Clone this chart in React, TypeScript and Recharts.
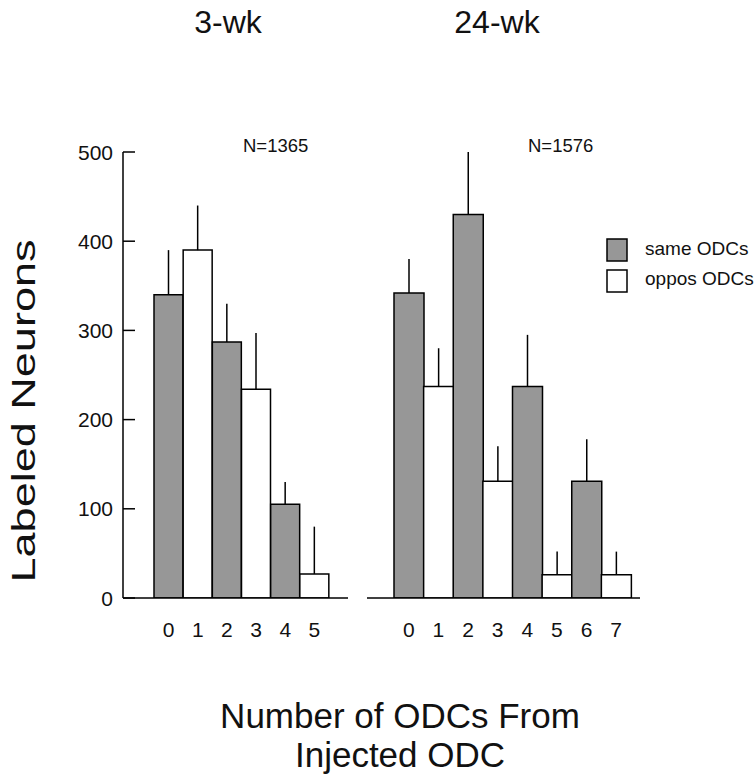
import { BarChart, Bar, XAxis, YAxis, Cell, ErrorBar } from 'recharts';

// distance (in ODCs) from the injected column
const weeks3Categories = ['0', '1', '2', '3', '4', '5'];
const weeks3Values = [340, 390, 287, 234, 105, 27];
const weeks3Errors = [50, 50, 43, 63, 25, 53];

const weeks24Categories = ['0', '1', '2', '3', '4', '5', '6', '7'];
const weeks24Values = [342, 237, 430, 131, 237, 26, 131, 26];
const weeks24Errors = [38, 43, 70, 39, 58, 26, 47, 26];

const yTicks = [0, 100, 200, 300, 400, 500];

const GRAY = '#979797';
const FONT = '"Liberation Sans", Arial, sans-serif';

const build = (cats: string[], vals: number[], errs: number[]) =>
  cats.map((c, i) => ({ dist: c, count: vals[i], err: [0, errs[i]] }));

const data3 = build(weeks3Categories, weeks3Values, weeks3Errors);
const data24 = build(weeks24Categories, weeks24Values, weeks24Errors);

// even distance = same eye ODC, odd = opposite eye
const fillFor = (i: number) => (i % 2 === 0 ? GRAY : '#ffffff');

const YTick = (props: any) => {
  const { x, y, payload } = props;
  return (
    <g>
      <line x1={x + 10} x2={x + 22} y1={y} y2={y} stroke="#000" strokeWidth={1.5} />
      <text x={x} y={y} dy="0.36em" textAnchor="end" fontSize={21} fill="#111" fontFamily={FONT}>
        {payload.value}
      </text>
    </g>
  );
};

function Panel({ data, width, margin, padding, showY }: any) {
  return (
    <BarChart
      width={width}
      height={700}
      data={data}
      margin={margin}
      barCategoryGap={0}
      barGap={0}
    >
      <XAxis
        dataKey="dist"
        padding={padding}
        axisLine={{ stroke: '#000', strokeWidth: 1.5 }}
        tickLine={false}
        tickSize={0}
        tickMargin={24}
        height={30}
        interval={0}
        tick={{ fontSize: 21, fill: '#111', fontFamily: FONT }}
      />
      <YAxis
        hide={!showY}
        domain={[0, 500]}
        ticks={yTicks}
        width={60}
        axisLine={{ stroke: '#000', strokeWidth: 1.5 }}
        tickLine={false}
        tickSize={0}
        tickMargin={10}
        tick={<YTick />}
        allowDataOverflow
      />
      <Bar dataKey="count" stroke="#000" strokeWidth={1.5} isAnimationActive={false}>
        {data.map((_: any, i: number) => (
          <Cell key={`c-${i}`} fill={fillFor(i)} />
        ))}
        <ErrorBar dataKey="err" width={0} stroke="#000" strokeWidth={1.5} direction="y" isAnimationActive={false} />
      </Bar>
    </BarChart>
  );
}

export default function App() {
  return (
    <div style={{ position: 'absolute', left: 0, top: 0, width: 754, height: 776, background: '#fff', fontFamily: FONT }}>
      <div style={{ position: 'absolute', left: 0, top: 0 }}>
        <Panel
          data={data3}
          width={360}
          margin={{ top: 152, left: 63, right: 12, bottom: 72 }}
          padding={{ left: 31, right: 19 }}
          showY
        />
      </div>
      <div style={{ position: 'absolute', left: 360, top: 0 }}>
        <Panel
          data={data24}
          width={394}
          margin={{ top: 152, left: 7, right: 114, bottom: 72 }}
          padding={{ left: 27, right: 9 }}
          showY={false}
        />
      </div>
      <svg width={754} height={776} style={{ position: 'absolute', left: 0, top: 0, pointerEvents: 'none' }}>
        <text x={228} y={33} textAnchor="middle" fontSize={32} fill="#111">3-wk</text>
        <text x={497} y={33} textAnchor="middle" fontSize={32} fill="#111">24-wk</text>
        <text x={243} y={152} fontSize={18.5} fill="#111">N=1365</text>
        <text x={528} y={152} fontSize={18.5} fill="#111">N=1576</text>
        <text
          transform="translate(35,411) rotate(-90)"
          textAnchor="middle"
          fontSize={34}
          fill="#111"
          textLength={343}
          lengthAdjust="spacingAndGlyphs"
        >
          Labeled Neurons
        </text>
        <text x={400} y={728} textAnchor="middle" fontSize={35} fill="#111">Number of ODCs From</text>
        <text x={400} y={767} textAnchor="middle" fontSize={35} fill="#111">Injected ODC</text>
        <rect x={607} y={239} width={20} height={22} fill={GRAY} stroke="#000" strokeWidth={1.5} />
        <rect x={607} y={270} width={20} height={22} fill="#fff" stroke="#000" strokeWidth={1.5} />
        <text x={645} y={255} fontSize={19} fill="#111">same ODCs</text>
        <text x={645} y={285} fontSize={19} fill="#111">oppos ODCs</text>
      </svg>
    </div>
  );
}
